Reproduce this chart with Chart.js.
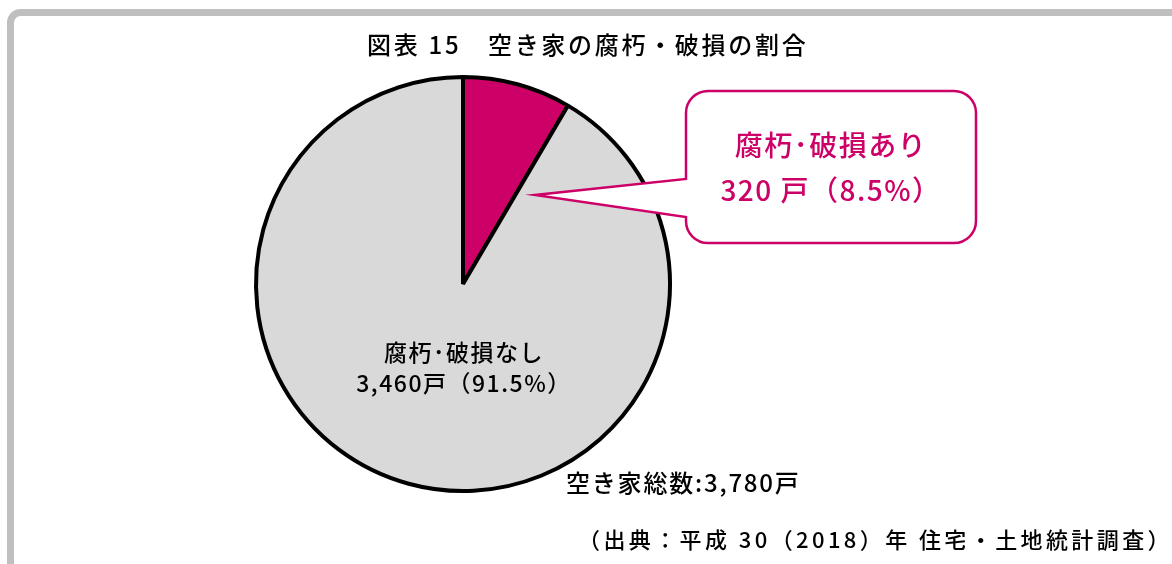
<!DOCTYPE html>
<html lang="ja">
<head>
<meta charset="utf-8">
<script src="https://cdn.jsdelivr.net/npm/chart.js@4.4.1/dist/chart.umd.min.js"></script>
<style>
  html, body { margin: 0; padding: 0; background: #fff; }
  #wrap { width: 1172px; height: 564px; }
</style>
</head>
<body>
<div id="wrap"><canvas id="pie-chart" width="1172" height="564"></canvas></div>
<script>
const ctx = document.getElementById("pie-chart");

// data
const labels = ["腐朽･破損あり", "腐朽･破損なし"];
const values = [320, 3460];
const unit = "戸";
const titleText = "図表 15　空き家の腐朽・破損の割合";
const totalLabel = "空き家総数";
const sourceText = "（出典：平成 30（2018）年 住宅・土地統計調査）";

const Config = {
  colors: {
    accent: "#cc0066",
    slice: "#d9d9d9",
    border: "#000000",
    frame: "#bfbfbf",
    text: "#000000",
  },
  font: `"Noto Sans CJK JP", "Noto Sans", sans-serif`,
  radius: 207,
};

const total = values.reduce((a, b) => a + b, 0);
const fmt = (n) => n.toLocaleString("en-US");
const pct = (v) => ((v / total) * 100).toFixed(1) + "%";

const roundRect = (c, x, y, w, h, r) => {
  c.beginPath();
  c.moveTo(x + r, y);
  c.lineTo(x + w - r, y);
  c.arcTo(x + w, y, x + w, y + r, r);
  c.lineTo(x + w, y + h - r);
  c.arcTo(x + w, y + h, x + w - r, y + h, r);
  c.lineTo(x + r, y + h);
  c.arcTo(x, y + h, x, y + h - r, r);
  c.lineTo(x, y + r);
  c.arcTo(x, y, x + r, y, r);
  c.closePath();
};

const decorations = {
  id: "decorations",
  beforeDraw(chart) {
    const c = chart.ctx;
    c.save();
    // outer frame
    c.strokeStyle = Config.colors.frame;
    c.lineWidth = 7;
    roundRect(c, 10.5, 12.5, 1200, 600, 10);
    c.stroke();
    c.restore();
  },
  afterDraw(chart) {
    const c = chart.ctx;
    const arc = chart.getDatasetMeta(0).data[0];
    const cx = arc.x;
    const cy = arc.y;

    c.save();
    c.textBaseline = "middle";

    // title
    c.fillStyle = Config.colors.text;
    c.font = `500 24px ${Config.font}`;
    c.letterSpacing = "2.7px";
    c.textAlign = "left";
    c.fillText(titleText, 367, 45);

    // callout for the first slice
    const bx = cx + 223, by = cy - 193, bw = 290, bh = 152, br = 22;
    const tipX = cx + 72, tipY = cy - 89;
    c.beginPath();
    c.moveTo(bx + br, by);
    c.lineTo(bx + bw - br, by);
    c.arcTo(bx + bw, by, bx + bw, by + br, br);
    c.lineTo(bx + bw, by + bh - br);
    c.arcTo(bx + bw, by + bh, bx + bw - br, by + bh, br);
    c.lineTo(bx + br, by + bh);
    c.arcTo(bx, by + bh, bx, by + bh - br, br);
    c.lineTo(bx, by + 126);
    c.lineTo(tipX, tipY);
    c.lineTo(bx, by + 88);
    c.lineTo(bx, by + br);
    c.arcTo(bx, by, bx + br, by, br);
    c.closePath();
    c.fillStyle = "#ffffff";
    c.fill();
    c.strokeStyle = Config.colors.accent;
    c.lineWidth = 2.5;
    c.stroke();

    c.fillStyle = Config.colors.accent;
    c.font = `500 28px ${Config.font}`;
    c.letterSpacing = "1.5px";
    c.textAlign = "center";
    c.fillText(labels[0], bx + 145, by + 54);
    c.fillText(`${fmt(values[0])} ${unit}（${pct(values[0])}）`, bx + 145, by + 99);

    // label inside the big slice
    c.fillStyle = Config.colors.text;
    c.font = `500 23px ${Config.font}`;
    c.letterSpacing = "1.5px";
    c.fillText(labels[1], cx + 1, cy + 68);
    c.fillText(`${fmt(values[1])}${unit}（${pct(values[1])}）`, cx + 1, cy + 99);

    // total and source
    c.textAlign = "left";
    c.font = `500 24px ${Config.font}`;
    c.letterSpacing = "1.8px";
    c.fillText(`${totalLabel}:${fmt(total)}${unit}`, 566, 483);
    c.font = `500 22px ${Config.font}`;
    c.letterSpacing = "3.4px";
    c.fillText(sourceText, 578, 540);
    c.restore();
  },
};

new Chart(ctx, {
  type: "pie",
  data: {
    labels,
    datasets: [
      {
        data: values,
        backgroundColor: [Config.colors.accent, Config.colors.slice],
        borderColor: Config.colors.border,
        borderWidth: 4,
      },
    ],
  },
  options: {
    responsive: false,
    animation: false,
    events: [],
    radius: Config.radius,
    layout: {
      padding: { left: 253, right: 499, top: 74, bottom: 70 },
    },
    plugins: {
      legend: { display: false },
      tooltip: { enabled: false },
    },
  },
  plugins: [decorations],
});
</script>
</body>
</html>
